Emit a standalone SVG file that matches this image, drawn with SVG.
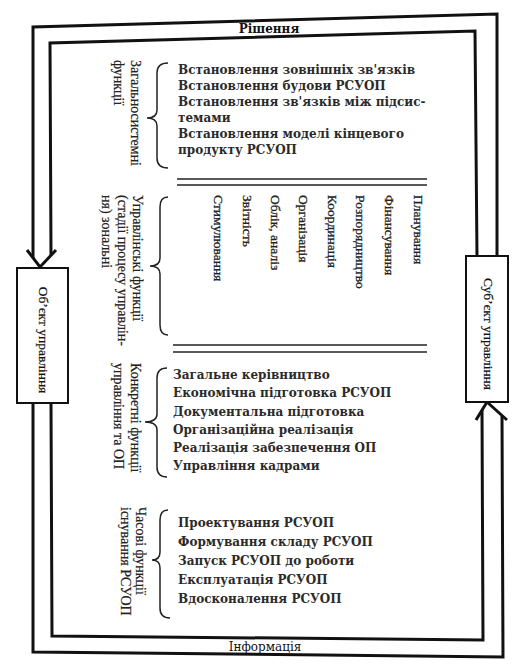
<svg xmlns="http://www.w3.org/2000/svg" width="523" height="669" viewBox="0 0 523 669">
<style>
.flow{fill:none;stroke:#111;stroke-width:3;stroke-linejoin:miter}
.box{fill:#fff;stroke:#111;stroke-width:2}
.rule{stroke:#222;stroke-width:1.6}
.brace{fill:none;stroke:#222;stroke-width:1.5}
.item{font-family:"DejaVu Serif","Liberation Serif",serif;font-weight:bold;font-size:12px;fill:#2a2a2a}
.lab{font-family:"Liberation Serif",serif;font-size:14px;fill:#222;stroke:#222;stroke-width:0.2}
.rot{font-family:"Liberation Serif",serif;font-size:13.5px;fill:#222;stroke:#222;stroke-width:0.3}
.flabB{font-family:"DejaVu Serif",serif;font-weight:bold;font-size:12px;fill:#111}
.flab{font-family:"DejaVu Serif",serif;font-size:12px;fill:#111}
.nlab{font-family:"Liberation Serif",serif;font-size:13.5px;fill:#111;stroke:#111;stroke-width:0.2}
</style>
<rect width="523" height="669" fill="#fff"/>

<g id="connectors">
  <path class="flow" d="M33,258 L33,27 L497,14 L497,256"/>
  <path class="flow" d="M51,255 L50,43 L475,31 L477,256"/>
  <path class="flow" d="M27,250 L40,267 L56,250"/>
  <path class="flow" d="M33,403 L33,652 L503,657 L502,416"/>
  <path class="flow" d="M51,403 L52,636 L483,640 L482,410"/>
  <path class="flow" d="M476,420 L487,402 L507,420"/>
  <text class="flabB" x="269" y="33" text-anchor="middle">Рішення</text>
  <text class="flab" x="265" y="651" text-anchor="middle">Інформація</text>
</g>

<g id="node-object">
  <rect class="box" x="17" y="268" width="51" height="135"/>
  <text class="nlab" transform="translate(39,340) rotate(90)" text-anchor="middle">Об’єкт управління</text>
</g>

<g id="node-subject">
  <rect class="box" x="466" y="256" width="42" height="146"/>
  <text class="nlab" transform="translate(484,334) rotate(90)" text-anchor="middle">Суб’єкт управління</text>
</g>

<g id="section-general">
  <text class="lab" transform="translate(131,60) rotate(90)">Загальносистемні</text>
  <text class="lab" transform="translate(114,60) rotate(90)">функції</text>
  <path class="brace" d="M168,63 Q157,63 157,73 L157,110 Q157,118 147,118 Q157,118 157,126 L157,158 Q157,168 168,168"/>
  <text class="item" x="178" y="74">Встановлення зовнішніх зв'язків</text>
  <text class="item" x="178" y="90">Встановлення будови РСУОП</text>
  <text class="item" x="178" y="106">Встановлення зв'язків між підсис-</text>
  <text class="item" x="178" y="122">темами</text>
  <text class="item" x="178" y="138">Встановлення моделі кінцевого</text>
  <text class="item" x="178" y="154">продукту РСУОП</text>
</g>

<g id="divider-1">
  <line class="rule" x1="177" y1="179" x2="427" y2="179"/>
  <line class="rule" x1="177" y1="185" x2="427" y2="185"/>
</g>

<g id="section-managerial">
  <text class="lab" transform="translate(133,195) rotate(90)">Управлінські функції</text>
  <text class="lab" transform="translate(118,195) rotate(90)">(стадії процесу управлін-</text>
  <text class="lab" transform="translate(102,195) rotate(90)">ня) зональні</text>
  <path class="brace" d="M168,197 Q160,197 160,207 L160,258 Q160,266 150,266 Q160,266 160,274 L160,325 Q160,335 168,335"/>
  <text class="rot" transform="translate(414,195) rotate(90)">Планування</text>
  <text class="rot" transform="translate(385,195) rotate(90)">Фінансування</text>
  <text class="rot" transform="translate(356,195) rotate(90)">Розпорядництво</text>
  <text class="rot" transform="translate(328,195) rotate(90)">Координація</text>
  <text class="rot" transform="translate(299,195) rotate(90)">Організація</text>
  <text class="rot" transform="translate(271,195) rotate(90)">Облік, аналіз</text>
  <text class="rot" transform="translate(243,195) rotate(90)">Звітність</text>
  <text class="rot" transform="translate(214,195) rotate(90)">Стимулювання</text>
</g>

<g id="divider-2">
  <line class="rule" x1="173" y1="345" x2="427" y2="345"/>
  <line class="rule" x1="173" y1="352" x2="427" y2="352"/>
</g>

<g id="section-specific">
  <text class="lab" transform="translate(131,363) rotate(90)">Конкретні функції</text>
  <text class="lab" transform="translate(114,363) rotate(90)">управління та ОП</text>
  <path class="brace" d="M167,368 Q157,368 157,378 L157,414 Q157,422 145,422 Q157,422 157,430 L157,467 Q157,477 167,477"/>
  <text class="item" x="173" y="379">Загальне керівництво</text>
  <text class="item" x="173" y="397">Економічна підготовка РСУОП</text>
  <text class="item" x="173" y="416">Документальна підготовка</text>
  <text class="item" x="173" y="434">Організаційна реалізація</text>
  <text class="item" x="173" y="452">Реалізація забезпечення ОП</text>
  <text class="item" x="173" y="470">Управління кадрами</text>
</g>

<g id="section-temporal">
  <text class="lab" transform="translate(136,507) rotate(90)">Часові функції</text>
  <text class="lab" transform="translate(121,507) rotate(90)">існування РСУОП</text>
  <path class="brace" d="M168,510 Q160,510 160,520 L160,552 Q160,560 152,560 Q160,560 160,568 L160,608 Q160,618 170,618"/>
  <text class="item" x="178" y="527">Проектування РСУОП</text>
  <text class="item" x="178" y="546">Формування складу РСУОП</text>
  <text class="item" x="178" y="565">Запуск РСУОП до роботи</text>
  <text class="item" x="178" y="584">Експлуатація РСУОП</text>
  <text class="item" x="178" y="603">Вдосконалення РСУОП</text>
</g>
</svg>
